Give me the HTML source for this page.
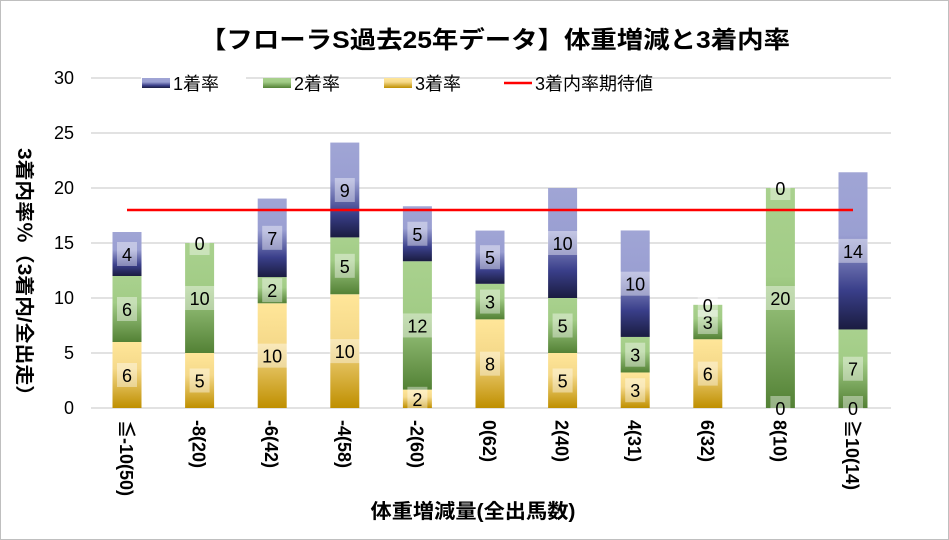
<!DOCTYPE html>
<html><head><meta charset="utf-8"><style>
html,body{margin:0;padding:0;background:#fff;}
svg{display:block;font-family:"Liberation Sans","Noto Sans CJK JP",sans-serif;}
</style></head><body>
<svg width="949" height="540" viewBox="0 0 949 540" xmlns="http://www.w3.org/2000/svg">
<defs>
<linearGradient id="g1" x1="0" y1="0" x2="0" y2="1"><stop offset="0" stop-color="#a0a5d5"/><stop offset="0.4" stop-color="#9a9fd2"/><stop offset="0.75" stop-color="#3a3f8a"/><stop offset="1" stop-color="#1a1c40"/></linearGradient>
<linearGradient id="g2" x1="0" y1="0" x2="0" y2="1"><stop offset="0" stop-color="#a9d18e"/><stop offset="0.4" stop-color="#a2cc86"/><stop offset="1" stop-color="#538135"/></linearGradient>
<linearGradient id="g3" x1="0" y1="0" x2="0" y2="1"><stop offset="0" stop-color="#ffe699"/><stop offset="0.4" stop-color="#f5d98a"/><stop offset="1" stop-color="#bf8f00"/></linearGradient>
</defs>
<rect x="0.5" y="0.5" width="948" height="539" fill="#fff" stroke="#bfbfbf"/>
<text x="495" y="48" font-size="24" font-weight="bold" text-anchor="middle" fill="#000" textLength="590" lengthAdjust="spacingAndGlyphs">【フローラS過去25年データ】体重増減と3着内率</text>
<g stroke="#d9d9d9" stroke-width="1.5">
<line x1="91" y1="408" x2="891" y2="408"/><line x1="91" y1="353" x2="891" y2="353"/><line x1="91" y1="298" x2="891" y2="298"/><line x1="91" y1="243" x2="891" y2="243"/><line x1="91" y1="188" x2="891" y2="188"/><line x1="91" y1="133" x2="891" y2="133"/><line x1="91" y1="78" x2="891" y2="78"/>
</g>
<g font-size="18" text-anchor="end" fill="#000">
<text x="74" y="414">0</text><text x="74" y="359">5</text><text x="74" y="304">10</text><text x="74" y="249">15</text><text x="74" y="194">20</text><text x="74" y="139">25</text><text x="74" y="84">30</text>
</g>
<text transform="translate(18,277) rotate(90)" font-size="19" font-weight="bold" text-anchor="middle" textLength="258" lengthAdjust="spacingAndGlyphs">3着内率％（3着内/全出走）</text>
<!-- legend -->
<rect x="141" y="77" width="105" height="16" fill="#fff"/>
<rect x="142" y="78" width="28" height="10" fill="url(#g1)"/><text x="173" y="90" font-size="18">1着率</text>
<rect x="263" y="78" width="28" height="10" fill="url(#g2)"/><text x="294" y="90" font-size="18">2着率</text>
<rect x="384" y="78" width="28" height="10" fill="url(#g3)"/><text x="415" y="90" font-size="18">3着率</text>
<line x1="504" y1="83" x2="532" y2="83" stroke="#ff0000" stroke-width="2.5"/><text x="535" y="90" font-size="18">3着内率期待値</text>
<g id="bars"></g>
<line x1="127" y1="210" x2="853" y2="210" stroke="#ff0000" stroke-width="2.5"/>
<g id="labels"></g>
<text x="473" y="518" font-size="20" font-weight="bold" text-anchor="middle" textLength="205" lengthAdjust="spacingAndGlyphs">体重増減量(全出馬数)</text>
<script>
var d=[["≦-10(50)",6,6,4],["-8(20)",5,10,0],["-6(42)",9.52,2.38,7.14],["-4(58)",10.34,5.17,8.62],["-2(60)",1.67,11.67,5],["0(62)",8.06,3.23,4.84],["2(40)",5,5,10],["4(31)",3.23,3.23,9.68],["6(32)",6.25,3.13,0],["8(10)",0,20,0],["≧10(14)",0,7.14,14.29]];
var ns="http://www.w3.org/2000/svg",B=document.getElementById("bars"),L=document.getElementById("labels"),svg=B.ownerSVGElement;
function el(t,a,p,txt){var e=document.createElementNS(ns,t);for(var k in a)e.setAttribute(k,a[k]);if(txt!==undefined)e.textContent=txt;p.appendChild(e);return e;}
d.forEach(function(r,i){
 var cx=127+i*72.6,w=29,base=408,s=11;
 var segs=[[r[1],"g3"],[r[2],"g2"],[r[3],"g1"]];
 var y=base;
 segs.forEach(function(sg){
  var h=sg[0]*s;
  if(h>0)el("rect",{x:cx-w/2,y:y-h,width:w,height:h,fill:"url(#"+sg[1]+")"},B);
  var ly=h>0?y-h/2:y;
  var v=Math.round(sg[0]);
  var tw=String(v).length*10+10;
  el("rect",{x:cx-tw/2,y:ly-12,width:tw,height:24,fill:"#fff","fill-opacity":"0.4"},L);
  el("text",{x:cx,y:ly+7,"font-size":"18","text-anchor":"middle",fill:"#000"},L,String(v));
  y-=h;
 });
 el("text",{transform:"translate("+(cx-7)+",420) rotate(90)","font-size":"18","font-weight":"bold"},svg,r[0]);
});
</script>
</svg>
</body></html>
